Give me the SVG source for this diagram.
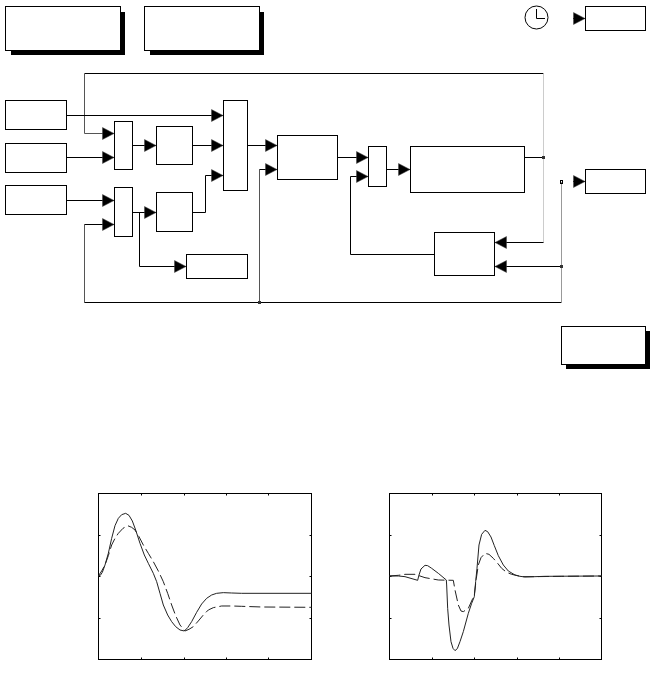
<svg xmlns="http://www.w3.org/2000/svg" width="663" height="693" viewBox="0 0 663 693">
<style>
.b{fill:#fff;stroke:#000;stroke-width:1}
.s{fill:#000;stroke:none}
.c{fill:none;stroke:#000;stroke-width:1}
.a{marker-end:url(#ah)}
.g1{stroke:#555}
.g2{stroke:#ccc}
.g3{stroke:#999}
.d{fill:#333;stroke:none}
.f{fill:#fff;stroke:#000;stroke-width:1}
.t{fill:none;stroke:#000;stroke-width:1}
.p{fill:none;stroke:#222;stroke-width:1;stroke-linejoin:round;vector-effect:non-scaling-stroke}
.k{stroke-dasharray:11 4}
</style>
<defs>
<marker id="ah" markerUnits="userSpaceOnUse" markerWidth="14" markerHeight="14" refX="12.500" refY="7" orient="auto" viewBox="0 0 14 14">
<path d="M1 1L12.500 7L1 13Z" fill="#000" stroke="#444" stroke-width=".5" stroke-linejoin="round"/>
</marker>
</defs>
<rect width="663" height="693" fill="#fff"/>
<g id="note1"><rect class="s" x="11" y="12" width="114" height="43"/><rect class="b" x="5.500" y="6.500" width="115" height="44"/></g>
<g id="note2"><rect class="s" x="150" y="12" width="114" height="43"/><rect class="b" x="144.500" y="6.500" width="115" height="44"/></g>
<g id="note3"><rect class="s" x="566" y="331" width="84" height="38"/><rect class="b" x="561.500" y="326.500" width="84" height="38"/></g>
<g id="clock"><circle cx="536.500" cy="17.500" r="11.500" fill="#fff" stroke="#000" stroke-width="1"/><path class="c" d="M536.500 9V18.500H545"/></g>
<g id="scope-time"><rect class="b" x="585.500" y="6.500" width="60" height="24"/></g>
<g id="scope-out"><rect class="b" x="585.500" y="169.500" width="60" height="24"/></g>
<g id="src1"><rect class="b" x="5.500" y="100.500" width="61" height="29"/></g>
<g id="src2"><rect class="b" x="5.500" y="143.500" width="61" height="29"/></g>
<g id="src3"><rect class="b" x="5.500" y="185.500" width="61" height="29"/></g>
<g id="mux1"><rect class="b" x="114.500" y="121.500" width="18" height="48"/></g>
<g id="mux2"><rect class="b" x="114.500" y="187.500" width="18" height="49"/></g>
<g id="block1"><rect class="b" x="156.500" y="126.500" width="36" height="38"/></g>
<g id="block2"><rect class="b" x="156.500" y="192.500" width="36" height="39"/></g>
<g id="sink"><rect class="b" x="186.500" y="254.500" width="61" height="24"/></g>
<g id="mux-big"><rect class="b" x="223.500" y="100.500" width="24" height="90"/></g>
<g id="block3"><rect class="b" x="277.500" y="135.500" width="60" height="44"/></g>
<g id="mux3"><rect class="b" x="368.500" y="146.500" width="18" height="40"/></g>
<g id="plant"><rect class="b" x="410.500" y="146.500" width="114" height="46"/></g>
<g id="feedback"><rect class="b" x="434.500" y="232.500" width="60" height="43"/></g>
<g id="connectors">
<path class="c" d="M543.500 73.500H84.500"/>
<path class="c g1 a" d="M84.500 73.500V133.500H114"/>
<path class="c a" d="M67 115.500H223"/>
<path class="c a" d="M67 157.500H114"/>
<path class="c a" d="M67 200.500H114"/>
<path class="c g1" d="M84.500 224.500V302.500"/>
<path class="c a" d="M84.500 224.500H114"/>
<path class="c" d="M84.500 302.500H561.500"/>
<path class="c g3" d="M561.500 302.500V182"/>
<path class="c a" d="M561.500 266.500H495"/>
<path class="c g1" d="M259.500 302.500V169.500"/>
<path class="c a" d="M259.500 169.500H277"/>
<path class="c a" d="M133 145.500H156"/>
<path class="c a" d="M193 145.500H223"/>
<path class="c a" d="M133 212.500H156"/>
<path class="c a" d="M193 212.500H205.500V175.500H223"/>
<path class="c a" d="M139.500 212.500V266.500H186"/>
<path class="c a" d="M248 145.500H277"/>
<path class="c a" d="M338 157.500H368"/>
<path class="c a" d="M387 169.500H410"/>
<path class="c" d="M525 157.500H543.500"/>
<path class="c g2" d="M543.500 73.500V242.500"/>
<path class="c a" d="M543.500 242.500H495"/>
<path class="c a" d="M434 254.500H350.500V176.500H368"/>
<path class="c a" d="M573 18.500H585"/>
<path class="c a" d="M573 181.500H585"/>
<rect class="d" x="258" y="301" width="3" height="3"/>
<rect class="d" x="542" y="156" width="3" height="3"/>
<rect class="d" x="560" y="265" width="3" height="3"/>
<rect class="c" x="560.500" y="180.500" width="2" height="3"/>
</g>
<g id="plot-left">
<rect class="f" x="98.500" y="493.500" width="213" height="166"/>
<path class="t" d="M141.500 493.500v2M184.500 493.500v2M226.500 493.500v2M268.500 493.500v2M141.500 659.500v-2M184.500 659.500v-2M226.500 659.500v-2M268.500 659.500v-2M98.500 535.500h2M98.500 576.500h2M98.500 618.500h2M311.500 535.500h-2M311.500 576.500h-2M311.500 618.500h-2"/>
<g transform="translate(85 485) scale(.3333)">
<polyline class="p" points="40,273 46,271 52,262 60,240 70,205 80,160 90,122 100,100 110,89 122,85 132,91 142,108 152,135 165,175 178,210 190,235 205,265 215,290 225,325 235,360 248,390 260,410 272,425 285,435 298,438 308,428 320,410 335,382 350,357 365,340 380,330 395,325 415,323 440,324 470,325 680,325"/>
<polyline class="p k" points="40,273 50,258 60,240 70,212 80,180 90,160 100,145 114,130 128,122 140,127 150,135 162,155 175,180 190,205 205,230 220,258 235,290 248,325 260,360 272,392 285,420 300,438 312,433 325,425 340,408 355,390 370,375 385,368 410,363 440,363 470,364 530,366 680,367"/>
</g>
</g>
<g id="plot-right">
<rect class="f" x="389.500" y="493.500" width="212" height="166"/>
<path class="t" d="M432.500 493.500v2M474.500 493.500v2M517.500 493.500v2M559.500 493.500v2M432.500 659.500v-2M474.500 659.500v-2M517.500 659.500v-2M559.500 659.500v-2M389.500 535.500h2M389.500 576.500h2M389.500 618.500h2M601.500 535.500h-2M601.500 576.500h-2M601.500 618.500h-2"/>
<g transform="translate(375 485) scale(.3333)">
<polyline class="p" points="43,273 70,273 90,275 128,286 132,270 138,252 150,241 158,242 170,250 190,265 214,285 215,300 218,370 222,420 228,470 234,490 240,497 247,491 255,470 265,440 280,385 290,355 298,335 302,290 306,250 312,180 320,148 330,136 338,140 348,156 358,182 370,212 385,240 400,258 420,270 435,274 450,276 480,275 510,274 680,273"/>
<polyline class="p k" points="43,273 70,271 90,268 120,268 150,278 190,285 235,286 240,315 250,360 258,378 265,380 280,370 298,330 304,280 310,240 318,218 330,205 342,208 355,220 368,235 380,250 395,262 410,268 440,275 480,275 560,274 680,273"/>
</g>
</g>
</svg>
